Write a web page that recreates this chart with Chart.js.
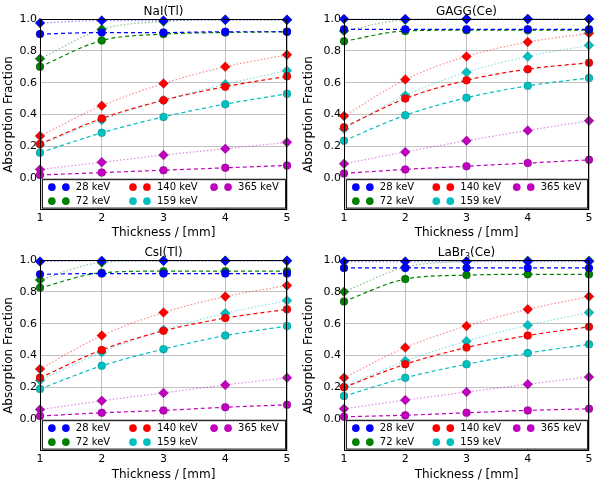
<!DOCTYPE html>
<html>
<head>
<meta charset="utf-8">
<script src="https://cdn.jsdelivr.net/npm/chart.js@4"></script>
<style>
  body { margin: 0; background: #fff; }
  .wrap { position: relative; width: 599px; height: 482px; }
  .cell { position: absolute; }
</style>
</head>
<body>
<div class="wrap">
  <div class="cell" style="left:0;top:0;width:300px;height:240px"><canvas id="c0"></canvas></div>
  <div class="cell" style="left:300px;top:0;width:299px;height:240px"><canvas id="c1"></canvas></div>
  <div class="cell" style="left:0;top:240px;width:300px;height:242px"><canvas id="c2"></canvas></div>
  <div class="cell" style="left:300px;top:240px;width:299px;height:242px"><canvas id="c3"></canvas></div>
</div>
<script>
// ---- data ----
const thickness = [1, 2, 3, 4, 5];
const energies = ['28 keV', '72 keV', '140 keV', '159 keV', '365 keV'];
const colors = ['#0000ff', '#008000', '#ff0000', '#00bfbf', '#bf00bf'];
const crystals = ['NaI(Tl)', 'GAGG(Ce)', 'CsI(Tl)', 'LaBr3(Ce)'];

// diamond markers, dotted lines
const naiTotal = [
  [0.975, 0.99, 0.99, 0.995, 0.995],
  [0.75, 0.935, 0.985, 0.995, 0.995],
  [0.265, 0.455, 0.595, 0.70, 0.775],
  [0.21, 0.365, 0.49, 0.59, 0.675],
  [0.055, 0.10, 0.145, 0.185, 0.225]
];
// circle markers, dashed lines
const naiPeak = [
  [0.905, 0.915, 0.915, 0.92, 0.92],
  [0.70, 0.865, 0.905, 0.915, 0.92],
  [0.215, 0.375, 0.49, 0.575, 0.64],
  [0.16, 0.285, 0.385, 0.465, 0.53],
  [0.02, 0.035, 0.05, 0.065, 0.08]
];
const gaggTotal = [
  [1.0, 1.0, 1.0, 1.0, 1.0],
  [0.925, 0.995, 1.0, 1.0, 1.0],
  [0.39, 0.62, 0.765, 0.855, 0.91],
  [0.31, 0.52, 0.665, 0.765, 0.835],
  [0.09, 0.165, 0.235, 0.30, 0.36]
];
const gaggPeak = [
  [0.935, 0.935, 0.935, 0.935, 0.935],
  [0.86, 0.925, 0.93, 0.93, 0.93],
  [0.32, 0.50, 0.615, 0.685, 0.725],
  [0.235, 0.395, 0.505, 0.58, 0.63],
  [0.03, 0.055, 0.075, 0.095, 0.115]
];
const csiTotal = [
  [0.99, 0.995, 0.995, 0.995, 0.995],
  [0.875, 0.985, 0.995, 0.995, 0.995],
  [0.315, 0.525, 0.67, 0.77, 0.84],
  [0.245, 0.42, 0.56, 0.665, 0.745],
  [0.06, 0.115, 0.165, 0.215, 0.26]
];
const csiPeak = [
  [0.91, 0.915, 0.915, 0.915, 0.915],
  [0.825, 0.92, 0.93, 0.93, 0.93],
  [0.26, 0.435, 0.555, 0.635, 0.69],
  [0.19, 0.335, 0.44, 0.525, 0.585],
  [0.02, 0.04, 0.055, 0.075, 0.09]
];
const labrTotal = [
  [0.99, 0.99, 0.99, 0.99, 0.99],
  [0.80, 0.955, 0.99, 0.995, 0.995],
  [0.26, 0.45, 0.585, 0.69, 0.77],
  [0.205, 0.365, 0.49, 0.59, 0.67],
  [0.065, 0.12, 0.17, 0.22, 0.265]
];
const labrPeak = [
  [0.95, 0.95, 0.95, 0.95, 0.95],
  [0.74, 0.88, 0.905, 0.91, 0.91],
  [0.20, 0.345, 0.45, 0.525, 0.58],
  [0.145, 0.26, 0.345, 0.415, 0.47],
  [0.015, 0.025, 0.04, 0.055, 0.065]
];
const totals = [naiTotal, gaggTotal, csiTotal, labrTotal];
const peaks = [naiPeak, gaggPeak, csiPeak, labrPeak];

const FONT = 'DejaVu Sans';

function alpha(hex, a) {
  const n = parseInt(hex.slice(1), 16);
  return `rgba(${n >> 16},${(n >> 8) & 255},${n & 255},${a})`;
}

// frame, title and the in-plot legend
const decor = {
  id: 'decor',
  afterDraw(chart, args, opts) {
    const { ctx, chartArea: a, scales } = chart;
    ctx.save();
    ctx.strokeStyle = '#000';
    ctx.lineWidth = 1;
    ctx.strokeRect(a.left + 0.5, a.top + 0.5, a.width - 1, a.height - 1);

    // title (with subscript for LaBr3)
    ctx.fillStyle = '#000';
    ctx.textBaseline = 'alphabetic';
    const cx = (a.left + a.right) / 2;
    const m = opts.title.match(/^(\D+)(\d)(.*)$/);
    if (m) {
      ctx.font = `12px ${FONT}`;
      const w1 = ctx.measureText(m[1]).width, w3 = ctx.measureText(m[3]).width;
      ctx.font = `8px ${FONT}`;
      const w2 = ctx.measureText(m[2]).width;
      let x = cx - (w1 + w2 + w3) / 2;
      ctx.textAlign = 'left';
      ctx.font = `12px ${FONT}`;
      ctx.fillText(m[1], x, a.top - 4); x += w1;
      ctx.font = `8px ${FONT}`;
      ctx.fillText(m[2], x, a.top - 1); x += w2;
      ctx.font = `12px ${FONT}`;
      ctx.fillText(m[3], x, a.top - 4);
    } else {
      ctx.textAlign = 'center';
      ctx.font = `12px ${FONT}`;
      ctx.fillText(opts.title, cx, a.top - 4);
    }

    // legend box
    const x0 = scales.x.getPixelForValue(1.03), x1 = scales.x.getPixelForValue(4.97);
    const y0 = scales.y.getPixelForValue(0.0) + 1, y1 = scales.y.getPixelForValue(-0.185);
    ctx.fillStyle = '#fff';
    ctx.fillRect(x0, y0, x1 - x0, y1 - y0);
    ctx.strokeStyle = '#000';
    ctx.strokeRect(x0 + 0.5, y0 + 0.5, x1 - x0, y1 - y0);
    const colW = (x1 - x0) / 3;
    ctx.font = `10px ${FONT}`;
    ctx.textAlign = 'left';
    ctx.textBaseline = 'middle';
    energies.forEach((e, i) => {
      const col = i < 2 ? 0 : i < 4 ? 1 : 2;
      const row = i === 4 ? 0 : i % 2;
      const lx = x0 + 6 + col * colW;
      const ly = y0 + 8 + row * 14;
      ctx.fillStyle = colors[i];
      [0, 14].forEach(dx => {
        ctx.beginPath();
        ctx.arc(lx + dx + 4, ly, 3.8, 0, Math.PI * 2);
        ctx.fill();
      });
      ctx.fillStyle = '#000';
      ctx.fillText(e, lx + 28, ly);
    });
    ctx.restore();
  }
};

function makeChart(id, idx, yw, xh, pad) {
  const datasets = [];
  energies.forEach((e, i) => {
    datasets.push({
      label: e + ' total',
      data: thickness.map((t, k) => ({ x: t, y: totals[idx][i][k] })),
      borderColor: alpha(colors[i], 0.45),
      backgroundColor: colors[i],
      pointBorderColor: alpha('#000000', 0.3),
      pointBorderWidth: 0.5,
      borderWidth: 1.2,
      borderDash: [1.5, 2],
      pointStyle: 'rectRot',
      pointRadius: 5,
      clip: false,
      cubicInterpolationMode: 'monotone'
    });
    datasets.push({
      label: e + ' peak',
      data: thickness.map((t, k) => ({ x: t, y: peaks[idx][i][k] })),
      borderColor: colors[i],
      backgroundColor: colors[i],
      pointBorderColor: alpha('#000000', 0.3),
      pointBorderWidth: 0.5,
      borderWidth: 1.2,
      borderDash: [4, 3],
      pointStyle: 'circle',
      pointRadius: 4,
      clip: false,
      cubicInterpolationMode: 'monotone'
    });
  });

  new Chart(document.getElementById(id), {
    type: 'line',
    data: { datasets },
    options: {
      responsive: true,
      maintainAspectRatio: false,
      animation: false,
      layout: { padding: pad },
      plugins: {
        legend: { display: false },
        tooltip: { enabled: false },
        decor: { title: crystals[idx] }
      },
      scales: {
        x: {
          type: 'linear', min: 1, max: 5,
          ticks: { stepSize: 1, color: '#000', font: { family: FONT, size: 11 }, padding: 2 },
          grid: { color: '#b0b0b0', lineWidth: 0.8, drawTicks: false },
          border: { display: false },
          title: { display: true, text: 'Thickness / [mm]', color: '#000', font: { family: FONT, size: 12 }, padding: 0 },
          afterFit: s => { s.height = xh; }
        },
        y: {
          min: -0.2, max: 1.0,
          ticks: {
            stepSize: 0.2, color: '#000', font: { family: FONT, size: 11 }, padding: 3,
            callback: v => v < -0.01 ? '' : Math.abs(v).toFixed(1)
          },
          grid: {
            color: ctx => ctx.tick && ctx.tick.value < -0.01 ? 'rgba(0,0,0,0)' : '#b0b0b0',
            lineWidth: 0.8, drawTicks: false
          },
          border: { display: false },
          title: { display: true, text: 'Absorption Fraction', color: '#000', font: { family: FONT, size: 12 }, padding: 2 },
          afterFit: s => { s.width = yw; }
        }
      }
    },
    plugins: [decor]
  });
}

makeChart('c0', 0, 40, 30, { top: 19, right: 13, left: 0, bottom: 0 });
makeChart('c1', 1, 44, 30, { top: 19, right: 10, left: 0, bottom: 0 });
makeChart('c2', 2, 40, 31, { top: 20, right: 13, left: 0, bottom: 0 });
makeChart('c3', 3, 44, 31, { top: 20, right: 10, left: 0, bottom: 0 });
</script>
</body>
</html>
